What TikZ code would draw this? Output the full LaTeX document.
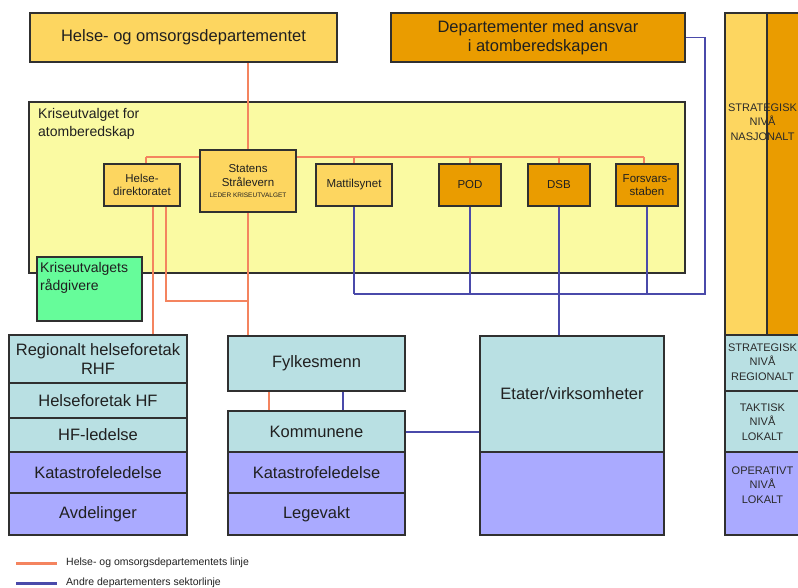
\documentclass[tikz,border=0pt]{standalone}
\usepackage{fontspec}
\setmainfont{Liberation Sans}
\usetikzlibrary{calc}
\definecolor{hodY}{HTML}{FDD660}
\definecolor{depO}{HTML}{EA9C00}
\definecolor{kriseY}{HTML}{FAFAA2}
\definecolor{radG}{HTML}{66FC9A}
\definecolor{tealC}{HTML}{B9E0E3}
\definecolor{purpC}{HTML}{AAAAFF}
\definecolor{hodline}{HTML}{F4845F}
\definecolor{depline}{HTML}{4A4AAA}
\definecolor{boxline}{HTML}{303030}
\definecolor{txt}{HTML}{202020}
\definecolor{lvltxt}{HTML}{2A2A2A}
\pgfdeclarelayer{back}
\pgfdeclarelayer{lines}
\pgfsetlayers{back,lines,main}
\begin{document}
\begin{tikzpicture}[x=1pt,y=-1pt,
  box/.style={draw=boxline, line width=1.2pt, inner sep=0pt, outer sep=0pt, anchor=north west, text=txt, align=center},
  big/.style={font=\fontsize{16.5}{18.5}\selectfont},
  small/.style={font=\fontsize{11.5}{13.5}\selectfont},
  mid/.style={font=\fontsize{14}{18}\selectfont},
  lvl/.style={font=\fontsize{11}{14.5}\selectfont, text=lvltxt, align=center, inner sep=0pt},
  legend/.style={font=\fontsize{10.5}{12}\selectfont, text=txt, anchor=west, inner sep=0pt},
  hl/.style={draw=hodline, line width=1.6pt},
  bl/.style={draw=depline, line width=1.6pt},
]
\useasboundingbox (0,0) rectangle (798,588);
\clip (0,0) rectangle (798,588);

% top departments
\node[box, big, fill=hodY, minimum width=307pt, minimum height=49pt] (hod) at (30,13) {Helse- og omsorgsdepartementet};
\node[box, big, fill=depO, minimum width=294pt, minimum height=49pt] (dep) at (391,13) {Departementer med ansvar\\i atomberedskapen};

% crisis committee
\begin{pgfonlayer}{back}
\node[box, fill=kriseY, minimum width=656pt, minimum height=171pt] (krise) at (29,102) {};
\end{pgfonlayer}
\node[anchor=north west, inner sep=0pt, align=left, mid, text=txt] (kriset) at (38,108) {Kriseutvalget for\\atomberedskap};

\node[box, fill=hodY, minimum width=96pt, minimum height=62pt, font=\fontsize{11.5}{14}\selectfont] (statens) at (200,150) {Statens\\Strålevern\\[-3pt]{\fontsize{6.5}{8}\selectfont LEDER KRISEUTVALGET}};
\node[box, small, fill=hodY, minimum width=76pt, minimum height=42pt] (helsedir) at (104,164) {Helse-\\direktoratet};
\node[box, small, fill=hodY, minimum width=76pt, minimum height=42pt] (matt) at (316,164) {Mattilsynet};
\node[box, small, fill=depO, minimum width=62pt, minimum height=42pt] (pod) at (439,164) {POD};
\node[box, small, fill=depO, minimum width=62pt, minimum height=42pt] (dsb) at (528,164) {DSB};
\node[box, small, fill=depO, minimum width=62pt, minimum height=42pt] (forsv) at (616,164) {Forsvars-\\staben};

\node[box, fill=radG, minimum width=105pt, minimum height=64pt] (radg) at (37,257) {};
\node[anchor=north west, inner sep=0pt, align=left, mid, text=txt] (radgt) at (40,262) {Kriseutvalgets\\rådgivere};

% left column
\node[box, big, fill=tealC, minimum width=178pt, minimum height=48pt] (rhf) at (9,335) {Regionalt helseforetak\\RHF};
\node[box, big, fill=tealC, minimum width=178pt, minimum height=35pt] (hf) at (9,383) {Helseforetak HF};
\node[box, big, fill=tealC, minimum width=178pt, minimum height=34pt] (hfl) at (9,418) {HF-ledelse};
\node[box, big, fill=purpC, minimum width=178pt, minimum height=41pt] (kat1) at (9,452) {Katastrofeledelse};
\node[box, big, fill=purpC, minimum width=178pt, minimum height=42pt] (avd) at (9,493) {Avdelinger};

% middle column
\node[box, big, fill=tealC, minimum width=177pt, minimum height=55pt] (fylk) at (228,336) {Fylkesmenn};
\node[box, big, fill=tealC, minimum width=177pt, minimum height=41pt] (kom) at (228,411) {Kommunene};
\node[box, big, fill=purpC, minimum width=177pt, minimum height=41pt] (kat2) at (228,452) {Katastrofeledelse};
\node[box, big, fill=purpC, minimum width=177pt, minimum height=42pt] (leg) at (228,493) {Legevakt};

% agencies
\node[box, big, fill=tealC, minimum width=184pt, minimum height=116pt] (etat) at (480,336) {Etater/virksomheter};
\node[box, fill=purpC, minimum width=184pt, minimum height=83pt] (etatlow) at (480,452) {};

% level column
\node[box, fill=hodY, minimum width=42pt, minimum height=322pt] (natL) at (725,13) {};
\node[box, fill=depO, minimum width=40pt, minimum height=322pt] (natR) at (767,13) {};
\node[box, fill=tealC, minimum width=82pt, minimum height=56pt] (reg) at (725,335) {};
\node[box, fill=tealC, minimum width=82pt, minimum height=61pt] (tak) at (725,391) {};
\node[box, fill=purpC, minimum width=82pt, minimum height=83pt] (ope) at (725,452) {};
\node[lvl] (natT) at (762.5,122) {STRATEGISK\\NIVÅ\\NASJONALT};
\node[lvl] (regT) at (762.5,362) {STRATEGISK\\NIVÅ\\REGIONALT};
\node[lvl] (takT) at (762.5,422) {TAKTISK\\NIVÅ\\LOKALT};
\node[lvl] (opeT) at (762.5,485) {OPERATIVT\\NIVÅ\\LOKALT};

% connectors
\coordinate (busL) at (146,157);
\coordinate (busR) at (644,157);
\coordinate (ojoin) at (248,301);
\coordinate (bcorner) at (705,294);
\begin{pgfonlayer}{lines}
% orange (HOD line)
\draw[hl] (hod.south -| statens.north) -- (statens.north);
\draw[hl] (busL) -- (busR);
\draw[hl] (busL) -- (busL |- helsedir.north);
\draw[hl] (matt.north |- busL) -- (matt.north);
\draw[hl] (pod.north |- busL) -- (pod.north);
\draw[hl] (dsb.north |- busL) -- (dsb.north);
\draw[hl] (busR) -- (busR |- forsv.north);
\draw[hl] ([xshift=11pt]helsedir.south) -- ([xshift=11pt]helsedir.south |- rhf.north);
\draw[hl] ([xshift=24pt]helsedir.south) |- (ojoin);
\draw[hl] (statens.south) -- (statens.south |- fylk.north);
\draw[hl] ([xshift=-47.5pt]fylk.south) -- ([xshift=-47.5pt]fylk.south |- kom.north);
% blue (sector line)
\draw[bl] (dep.east) -| (bcorner) -- (bcorner -| matt.south);
\draw[bl] (matt.south) -- (matt.south |- bcorner);
\draw[bl] (pod.south) -- (pod.south |- bcorner);
\draw[bl] (forsv.south) -- (forsv.south |- bcorner);
\draw[bl] (dsb.south) -- (dsb.south |- etat.north);
\draw[bl] ([xshift=26.5pt]fylk.south) -- ([xshift=26.5pt]fylk.south |- kom.north);
\draw[bl] ([yshift=-0.5pt]kom.east) -- ([yshift=-0.5pt]kom.east -| etat.west);
\end{pgfonlayer}

% legend
\coordinate (la1) at (16,563);
\coordinate (la2) at (57,563);
\coordinate (lb1) at (16,583);
\coordinate (lb2) at (57,583);
\draw[hl, line width=3pt] (la1) -- (la2);
\draw[bl, line width=3pt] (lb1) -- (lb2);
\node[legend] (lt1) at (66,563) {Helse- og omsorgsdepartementets linje};
\node[legend] (lt2) at (66,583) {Andre departementers sektorlinje};
\end{tikzpicture}
\end{document}
